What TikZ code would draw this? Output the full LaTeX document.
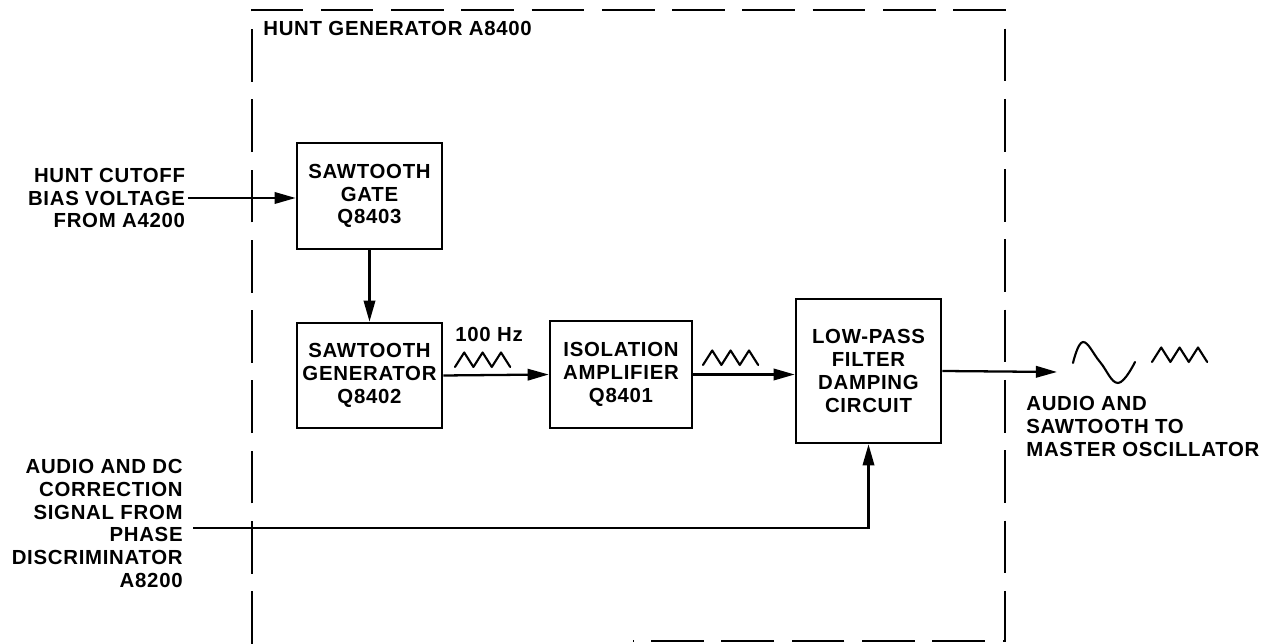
\documentclass[tikz,border=0pt]{standalone}
\usepackage{fontspec}
\setmainfont{Liberation Sans}[LetterSpace=3.5]
\usetikzlibrary{arrows.meta}

\tikzset{
  blk/.style={draw,line width=1.5pt,align=center,inner sep=0pt,minimum width=2.9cm},
  lbl/.style={inner sep=0pt},
  sig/.style={line width=1.3pt,-{Triangle[length=12pt,width=6.5pt]}},
  wave/.style={line width=1.2pt,line join=round,line cap=round},
  frame/.style={line width=1.1pt,dash pattern=on 30pt off 10pt}
}

\begin{document}
\begin{tikzpicture}[x=0.02cm,y=-0.02cm,font=\fontsize{11.6}{13}\selectfont\bfseries]
\useasboundingbox (0,0) rectangle (1272,644);
% module outline
\draw[frame] (252,644) -- (252,10) -- (1005,10) -- (1005,641) -- (633,641);
\node[lbl,anchor=base west] (title) at (263,36) {HUNT GENERATOR A8400};

% blocks
\node[blk,minimum height=2.12cm] (gate) at (369.5,196) {SAWTOOTH\\GATE\\Q8403};
\node[blk,minimum height=2.1cm] (gen) at (369.5,375.5) {SAWTOOTH\\GENERATOR\\Q8402};
\node[blk,minimum width=2.84cm,minimum height=2.14cm] (iso) at (621,374.5) {ISOLATION\\AMPLIFIER\\Q8401};
\node[blk,minimum height=2.88cm] (filt) at (868.5,371) {LOW-PASS\\FILTER\\DAMPING\\CIRCUIT};

% inputs and output
\coordinate (cutin) at (188,198);
\coordinate (phin) at (193,528);
\coordinate (out) at (1057,372);
\node[lbl,anchor=east,align=right,inner xsep=1.5pt] (cutlbl) at (cutin)
  {HUNT CUTOFF\\BIAS VOLTAGE\\FROM A4200};
\node[lbl,anchor=east,align=right] (phlbl) at (183,523.5)
  {AUDIO AND DC\\CORRECTION\\SIGNAL FROM\\PHASE\\DISCRIMINATOR\\A8200};
\node[lbl,anchor=north west,align=left] (outlbl) at (1026,396)
  {AUDIO AND\\SAWTOOTH TO\\MASTER OSCILLATOR};
\node[lbl,anchor=base west] (hz) at (455,342) {100 Hz};

\draw[sig] (cutin) -- (cutin -| gate.west);
\draw[sig] (gate.south) -- (gen.north);
\draw[sig] (gen.east) -- (iso.west);
\draw[sig] (iso.east) -- (iso.east -| filt.west);
\draw[sig] (filt.east) -- (out);
\draw[sig] (phin) -| (filt.south);

% waveforms
\foreach \sx/\sy in {455/367,703/365,1152/362}
  \draw[wave] (\sx,\sy) -- ++(9.2,-14.5) -- ++(9.2,14.5) -- ++(9.2,-14.5)
    -- ++(9.2,14.5) -- ++(9.2,-14.5) -- ++(9.2,14.5);
\draw[wave] plot[smooth,tension=0.7] coordinates
  {(1073,363) (1083,342) (1100,362) (1118,383) (1135,362)};
\end{tikzpicture}
\end{document}
